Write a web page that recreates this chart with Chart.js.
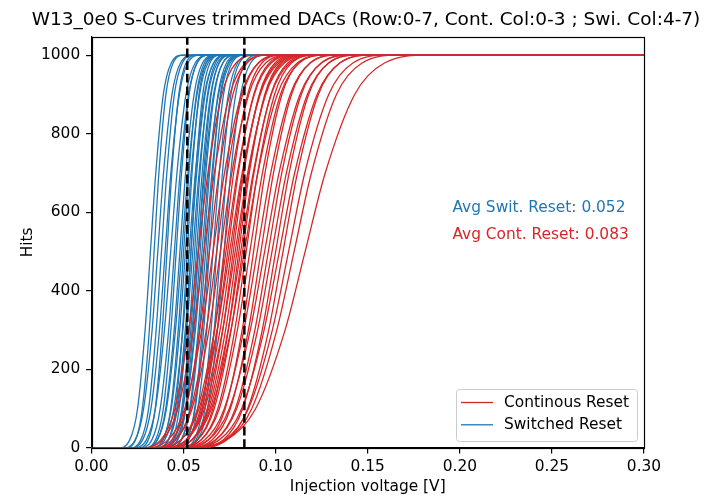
<!DOCTYPE html>
<html>
<head>
<meta charset="utf-8">
<script src="https://cdn.jsdelivr.net/npm/chart.js@4.4.0/dist/chart.umd.min.js"></script>
<style>
  html, body { margin: 0; padding: 0; background: #fff; }
</style>
</head>
<body>
<canvas id="sCurves" width="718" height="495"></canvas>
<script>
const TITLE = "W13_0e0 S-Curves trimmed DACs (Row:0-7, Cont. Col:0-3 ; Swi. Col:4-7)";
const FONT = "DejaVu Sans";
const BLUE = "#1f77b4";
const RED = "#d62728";

const X_TICKS = [0, 0.05, 0.10, 0.15, 0.20, 0.25, 0.30];
const Y_TICKS = [0, 200, 400, 600, 800, 1000];

const HIT_LEVELS = [0, 20, 100, 300, 500, 700, 900, 980, 1000];

// switched reset pixels, injection voltage in mV at each HIT_LEVELS entry
const switchedCurves = [
  [14.4, 20.7, 25.0, 29.1, 32, 34.9, 39.0, 43.3, 49.6],
  [18.0, 23.8, 27.6, 31.4, 34, 36.6, 40.4, 44.3, 50.0],
  [16.8, 23.7, 28.3, 32.9, 36, 39.1, 43.7, 48.3, 55.2],
  [20.4, 26.7, 31.0, 35.1, 38, 40.9, 45.0, 49.3, 55.6],
  [20.8, 27.7, 32.3, 36.9, 40, 43.1, 47.7, 52.3, 59.2],
  [25.0, 30.8, 34.6, 38.4, 41, 43.6, 47.4, 51.3, 57.0],
  [22.2, 29.7, 34.7, 39.6, 43, 46.4, 51.3, 56.3, 63.8],
  [25.8, 32.7, 37.3, 41.9, 45, 48.1, 52.7, 57.3, 64.2],
  [28.4, 34.7, 39.0, 43.1, 46, 48.9, 53.0, 57.3, 63.6],
  [28.8, 35.7, 40.3, 44.9, 48, 51.1, 55.7, 60.3, 67.2],
  [28.2, 35.7, 40.7, 45.6, 49, 52.4, 57.3, 62.3, 69.8],
  [32.4, 38.7, 43.0, 47.1, 50, 52.9, 57.0, 61.3, 67.6],
  [31.8, 38.7, 43.3, 47.9, 51, 54.1, 58.7, 63.3, 70.2],
  [36.0, 41.8, 45.6, 49.4, 52, 54.6, 58.4, 62.3, 68.0],
  [32.2, 39.7, 44.7, 49.6, 53, 56.4, 61.3, 66.3, 73.8],
  [34.8, 41.7, 46.3, 50.9, 54, 57.1, 61.7, 66.3, 73.2],
  [38.0, 43.8, 47.6, 51.4, 54, 56.6, 60.4, 64.3, 70.0],
  [34.2, 41.7, 46.7, 51.6, 55, 58.4, 63.3, 68.3, 75.8],
  [38.4, 44.7, 49.0, 53.1, 56, 58.9, 63.0, 67.3, 73.6],
  [37.8, 44.7, 49.3, 53.9, 57, 60.1, 64.7, 69.3, 76.2],
  [37.2, 44.7, 49.7, 54.6, 58, 61.4, 66.3, 71.3, 78.8],
  [40.4, 46.7, 51.0, 55.1, 58, 60.9, 65.0, 69.3, 75.6],
  [39.8, 46.7, 51.3, 55.9, 59, 62.1, 66.7, 71.3, 78.2],
  [37.6, 45.6, 51.0, 56.4, 60, 63.6, 69.0, 74.4, 82.4],
  [41.8, 48.7, 53.3, 57.9, 61, 64.1, 68.7, 73.3, 80.2],
  [41.2, 48.7, 53.7, 58.6, 62, 65.4, 70.3, 75.3, 82.8],
  [45.4, 51.7, 56.0, 60.1, 63, 65.9, 70.0, 74.3, 80.6],
  [44.8, 51.7, 56.3, 60.9, 64, 67.1, 71.7, 76.3, 83.2],
  [45.2, 52.7, 57.7, 62.6, 66, 69.4, 74.3, 79.3, 86.8],
  [48.8, 55.7, 60.3, 64.9, 68, 71.1, 75.7, 80.3, 87.2],
  [49.2, 56.7, 61.7, 66.6, 70, 73.4, 78.3, 83.3, 90.8],
  [49.6, 57.6, 63.0, 68.4, 72, 75.6, 81.0, 86.4, 94.4]
];

// continuous reset pixels, same layout
const continuousCurves = [
  [26.0, 37.5, 45.2, 52.8, 58, 63.2, 70.8, 78.5, 90.0],
  [25.8, 38.4, 46.9, 55.3, 61, 66.7, 75.1, 83.6, 96.2],
  [32.0, 43.5, 51.2, 58.8, 64, 69.2, 76.8, 84.5, 96.0],
  [27.6, 41.4, 50.6, 59.8, 66, 72.2, 81.4, 90.6, 104.4],
  [32.8, 45.4, 53.9, 62.3, 68, 73.7, 82.1, 90.6, 103.2],
  [31.6, 45.4, 54.6, 63.8, 70, 76.2, 85.4, 94.6, 108.4],
  [40.0, 51.5, 59.2, 66.8, 72, 77.2, 84.8, 92.5, 104.0],
  [34.6, 48.4, 57.6, 66.8, 73, 79.2, 88.4, 97.6, 111.4],
  [38.8, 51.4, 59.9, 68.3, 74, 79.7, 88.1, 96.6, 109.2],
  [33.4, 48.3, 58.4, 68.2, 75, 81.8, 91.6, 101.7, 116.6],
  [37.6, 51.4, 60.6, 69.8, 76, 82.2, 91.4, 100.6, 114.4],
  [41.8, 54.4, 62.9, 71.3, 77, 82.7, 91.1, 99.6, 112.2],
  [36.4, 51.3, 61.4, 71.2, 78, 84.8, 94.6, 104.7, 119.6],
  [40.6, 54.4, 63.6, 72.8, 79, 85.2, 94.4, 103.6, 117.4],
  [44.8, 57.4, 65.9, 74.3, 80, 85.7, 94.1, 102.6, 115.2],
  [39.4, 54.3, 64.4, 74.2, 81, 87.8, 97.6, 107.7, 122.6],
  [43.6, 57.4, 66.6, 75.8, 82, 88.2, 97.4, 106.6, 120.4],
  [38.2, 54.3, 65.1, 75.7, 83, 90.3, 100.9, 111.7, 127.8],
  [45.6, 59.4, 68.6, 77.8, 84, 90.2, 99.4, 108.6, 122.4],
  [44.4, 59.3, 69.4, 79.2, 86, 92.8, 102.6, 112.7, 127.6],
  [49.6, 63.4, 72.6, 81.8, 88, 94.2, 103.4, 112.6, 126.4],
  [45.2, 61.3, 72.1, 82.7, 90, 97.3, 107.9, 118.7, 134.8],
  [50.4, 65.3, 75.4, 85.2, 92, 98.8, 108.6, 118.7, 133.6],
  [46.0, 63.2, 74.8, 86.2, 94, 101.8, 113.2, 124.8, 142.0],
  [51.2, 67.3, 78.1, 88.7, 96, 103.3, 113.9, 124.7, 140.8],
  [50.0, 67.2, 78.8, 90.2, 98, 105.8, 117.2, 128.8, 146.0],
  [55.2, 71.3, 82.1, 92.7, 100, 107.3, 117.9, 128.7, 144.8],
  [50.8, 69.2, 81.5, 93.7, 102, 110.3, 122.5, 134.8, 153.2],
  [56.0, 73.2, 84.8, 96.2, 104, 111.8, 123.2, 134.8, 152.0],
  [52.6, 72.1, 85.2, 98.2, 107, 115.8, 128.8, 141.9, 161.4],
  [52.4, 73.1, 87.0, 100.6, 110, 119.4, 133.0, 146.9, 167.6],
  [48.8, 72.9, 89.1, 105.1, 116, 126.9, 142.9, 159.1, 183.2]
];

const AVG_SWITCHED = 0.052;
const AVG_CONTINUOUS = 0.083;
const X_MIN = 0, X_MAX = 0.3;
const Y_MIN = 0, Y_MAX = 1047;

const LEGEND_ITEMS = [
  { label: "Continous Reset", color: RED },
  { label: "Switched Reset", color: BLUE }
];

const BASE_SIZE = 15.4;

function curvePoints(row) {
  const pts = [{ x: X_MIN, y: HIT_LEVELS[0] }];
  row.forEach((mv, i) => pts.push({ x: mv / 1000, y: HIT_LEVELS[i] }));
  pts.push({ x: X_MAX, y: HIT_LEVELS[HIT_LEVELS.length - 1] });
  return pts;
}

function curveDataset(row, color) {
  return {
    data: curvePoints(row),
    borderColor: color,
    borderWidth: 1.3,
    pointRadius: 0,
    showLine: true,
    fill: false,
    cubicInterpolationMode: "monotone"
  };
}

function avgLine(x) {
  return {
    data: [{ x: x, y: Y_MIN }, { x: x, y: Y_MAX }],
    borderColor: "#000",
    borderWidth: 2.5,
    borderDash: [8.8, 3.8],
    pointRadius: 0,
    showLine: true,
    fill: false
  };
}

// rows of the matrix: 4 continuous columns then 4 switched columns
const datasets = [avgLine(AVG_SWITCHED), avgLine(AVG_CONTINUOUS)];
for (let r = 0; r < 8; r++) {
  for (let c = 0; c < 4; c++) datasets.push(curveDataset(continuousCurves[r * 4 + c], RED));
  for (let c = 0; c < 4; c++) datasets.push(curveDataset(switchedCurves[r * 4 + c], BLUE));
}

const frameAndNotes = {
  id: "frameAndNotes",
  afterDatasetsDraw(chart) {
    const { ctx, chartArea: a, scales } = chart;
    ctx.save();
    ctx.strokeStyle = "#000";
    ctx.lineWidth = 1.2;
    ctx.strokeRect(Math.round(a.left) + 0.5, Math.round(a.top) + 0.5,
      Math.round(a.right) - Math.round(a.left), Math.round(a.bottom) - Math.round(a.top));

    ctx.font = BASE_SIZE + "px '" + FONT + "'";
    ctx.textAlign = "left";
    ctx.textBaseline = "alphabetic";
    const tx = scales.x.getPixelForValue(0.196);
    ctx.fillStyle = BLUE;
    ctx.fillText("Avg Swit. Reset: " + AVG_SWITCHED.toFixed(3), tx, scales.y.getPixelForValue(600));
    ctx.fillStyle = RED;
    ctx.fillText("Avg Cont. Reset: " + AVG_CONTINUOUS.toFixed(3), tx, scales.y.getPixelForValue(532));
    ctx.restore();
  }
};

const insideLegend = {
  id: "insideLegend",
  afterDraw(chart) {
    const { ctx, chartArea: a } = chart;
    const w = 181, h = 52;
    const x = Math.round(a.right) - 7 - w, y = Math.round(a.bottom) - 7 - h;
    ctx.save();
    ctx.beginPath();
    ctx.roundRect(x + 0.5, y + 0.5, w, h, 3);
    ctx.fillStyle = "rgba(255,255,255,0.8)";
    ctx.fill();
    ctx.strokeStyle = "#cccccc";
    ctx.lineWidth = 1;
    ctx.stroke();
    ctx.font = BASE_SIZE + "px '" + FONT + "'";
    ctx.textAlign = "left";
    ctx.textBaseline = "middle";
    LEGEND_ITEMS.forEach((item, i) => {
      const ly = y + 13.5 + i * 22.3;
      ctx.beginPath();
      ctx.moveTo(x + 5, ly);
      ctx.lineTo(x + 37, ly);
      ctx.strokeStyle = item.color;
      ctx.lineWidth = 1.3;
      ctx.stroke();
      ctx.fillStyle = "#000";
      ctx.fillText(item.label, x + 48, ly);
    });
    ctx.restore();
  }
};

new Chart(document.getElementById("sCurves").getContext("2d"), {
  type: "scatter",
  data: { datasets: datasets },
  plugins: [frameAndNotes, insideLegend],
  options: {
    responsive: false,
    animation: false,
    events: [],
    layout: { padding: { left: 14, right: 0, top: 0, bottom: 0 } },
    plugins: {
      legend: { display: false },
      tooltip: { enabled: false },
      title: {
        display: true,
        text: TITLE,
        color: "#000",
        font: { family: FONT, size: 18.5, weight: "normal", lineHeight: 1.2 },
        padding: { top: 8.7, bottom: 5.8 }
      }
    },
    scales: {
      x: {
        type: "linear",
        min: X_MIN,
        max: X_MAX,
        afterBuildTicks: s => { s.ticks = X_TICKS.map(v => ({ value: v })); },
        afterFit: s => { s.height = 47; },
        ticks: {
          color: "#000",
          font: { family: FONT, size: BASE_SIZE },
          padding: 4.7,
          maxRotation: 0,
          autoSkip: false,
          callback: v => Number(v).toFixed(2)
        },
        grid: { drawOnChartArea: false, drawTicks: true, tickLength: 5.4, tickWidth: 1.2, color: "#000", lineWidth: 1.2 },
        border: { display: true, color: "#000", width: 1.2 },
        title: {
          display: true,
          text: "Injection voltage [V]",
          color: "#000",
          font: { family: FONT, size: BASE_SIZE, lineHeight: 1 },
          padding: { top: 0, bottom: 0 }
        }
      },
      y: {
        type: "linear",
        min: Y_MIN,
        max: Y_MAX,
        afterBuildTicks: s => { s.ticks = Y_TICKS.map(v => ({ value: v })); },
        afterFit: s => { s.width = 77.5; },
        ticks: {
          color: "#000",
          font: { family: FONT, size: BASE_SIZE },
          padding: 5.9,
          callback: v => String(v)
        },
        grid: { drawOnChartArea: false, drawTicks: true, tickLength: 5.4, tickWidth: 1.2, color: "#000", lineWidth: 1.2 },
        border: { display: true, color: "#000", width: 1.2 },
        title: {
          display: true,
          text: "Hits",
          color: "#000",
          font: { family: FONT, size: BASE_SIZE, lineHeight: 1.2 },
          padding: { top: 4.8, bottom: 0 }
        }
      },
      yRight: {
        axis: "y",
        position: "right",
        display: true,
        min: Y_MIN,
        max: Y_MAX,
        afterFit: s => { s.width = 74; },
        ticks: { display: false },
        grid: { display: false },
        border: { display: false }
      }
    }
  }
});
</script>
</body>
</html>
